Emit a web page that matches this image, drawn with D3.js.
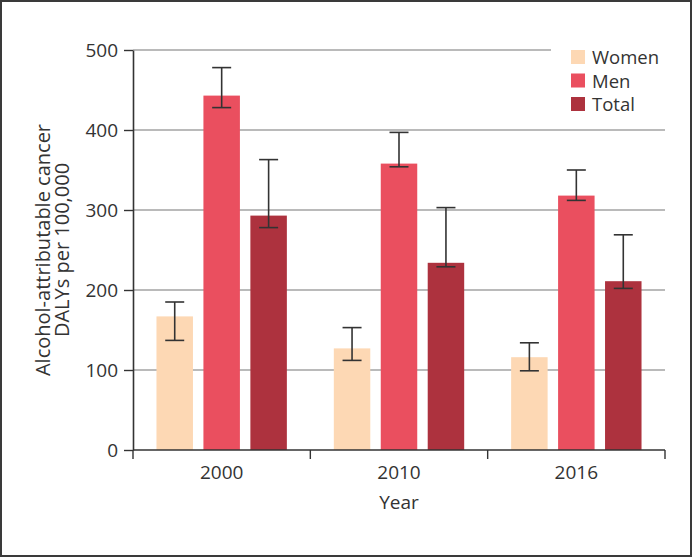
<!DOCTYPE html>
<html><head><meta charset="utf-8">
<script src="https://cdn.jsdelivr.net/npm/d3@7"></script>
<style>body{margin:0;background:#fff}svg{display:block}text{font-family:"Open Sans","Noto Sans",sans-serif;fill:#333}</style>
</head><body>
<svg id="c" width="692" height="557"></svg>
<script>
const years = ["2000", "2010", "2016"];
const seriesNames = ["Women", "Men", "Total"];
const colors = ["#fdd8b4", "#ea4f5f", "#ad323e"];
const women = [167, 127, 116];
const men = [443, 358, 318];
const total = [293, 234, 211];
const womenLow = [137, 112, 99];
const womenHigh = [185, 153, 134];
const menLow = [428, 354, 312];
const menHigh = [478, 397, 350];
const totalLow = [278, 229, 202];
const totalHigh = [363, 303, 269];
const yTicks = [0, 100, 200, 300, 400, 500];

const vals = [women, men, total];
const lows = [womenLow, menLow, totalLow];
const highs = [womenHigh, menHigh, totalHigh];

const svg = d3.select("#c");
const L = 133, R = 665, T = 50, B = 450;
svg.append("rect").attr("x",1).attr("y",1).attr("width",690).attr("height",555)
  .attr("fill","#fff").attr("stroke","#3a3a3a").attr("stroke-width",2);

const x = d3.scaleBand().domain(years).range([L, R]).padding(0);
const xi = d3.scaleBand().domain(seriesNames).range([0, x.bandwidth()]).paddingInner(0.223).paddingOuter(0.5);
const y = d3.scaleLinear().domain([0, 500]).range([B, T]);

// gridlines
svg.append("g").selectAll("line").data(yTicks.filter(d=>d>0)).join("line")
  .attr("x1", L).attr("x2", R).attr("y1", d=>y(d)).attr("y2", d=>y(d))
  .attr("stroke", "#a3a3a3").attr("stroke-width", 1.5);

// legend background
svg.append("rect").attr("x",551).attr("y",40).attr("width",130).attr("height",80).attr("fill","#fff");

// bars
const g = svg.append("g");
years.forEach((yr, i) => {
  seriesNames.forEach((s, j) => {
    const bx = x(yr) + xi(s);
    g.append("rect").attr("x", bx).attr("width", xi.bandwidth())
      .attr("y", y(vals[j][i])).attr("height", y(0) - y(vals[j][i]))
      .attr("fill", colors[j]);
  });
});
// error bars
years.forEach((yr, i) => {
  seriesNames.forEach((s, j) => {
    const cx = x(yr) + xi(s) + xi.bandwidth()/2;
    const e = g.append("g").attr("stroke", "#333").attr("stroke-width", 1.6);
    e.append("line").attr("x1", cx).attr("x2", cx).attr("y1", y(highs[j][i])).attr("y2", y(lows[j][i]));
    e.append("line").attr("x1", cx-9.5).attr("x2", cx+9.5).attr("y1", y(highs[j][i])).attr("y2", y(highs[j][i]));
    e.append("line").attr("x1", cx-9.5).attr("x2", cx+9.5).attr("y1", y(lows[j][i])).attr("y2", y(lows[j][i]));
  });
});

// y axis
const ya = svg.append("g").attr("transform", `translate(${L},0)`)
  .call(d3.axisLeft(y).tickValues(yTicks).tickSize(9).tickSizeOuter(0).tickPadding(6));
ya.select(".domain").attr("stroke", "#333").attr("stroke-width", 1.6);
ya.selectAll(".tick line").attr("stroke", "#333").attr("stroke-width", 1.4);
ya.selectAll("text").attr("font-size", 19).attr("fill", "#333").attr("font-family", null);

// x axis
const xa = svg.append("g").attr("transform", `translate(0,${B})`);
xa.append("line").attr("x1", L).attr("x2", R).attr("y1", 0).attr("y2", 0).attr("stroke", "#333").attr("stroke-width", 1.6);
const bounds = [L, ...years.map(yr => x(yr) + x.bandwidth())];
xa.selectAll("line.tk").data(bounds).join("line").attr("class","tk")
  .attr("x1", d=>d).attr("x2", d=>d).attr("y1", 0).attr("y2", 9).attr("stroke", "#333").attr("stroke-width", 1.4);
xa.selectAll("text").data(years).join("text")
  .attr("x", d => x(d) + x.bandwidth()/2).attr("y", 28.5)
  .attr("text-anchor", "middle").attr("font-size", 19).text(d => d);

svg.append("text").attr("x", (L+R)/2).attr("y", 509).attr("text-anchor","middle").attr("font-size", 19).text("Year");

// y label
const yl = svg.append("text").attr("transform", `translate(0,${(T+B)/2}) rotate(-90)`).attr("text-anchor","middle").attr("font-size", 20);
yl.append("tspan").attr("x", 0).attr("y", 50).text("Alcohol-attributable cancer");
yl.append("tspan").attr("x", 0).attr("y", 69).text("DALYs per 100,000");

// legend
const lg = svg.append("g");
seriesNames.forEach((s, j) => {
  lg.append("rect").attr("x", 571).attr("y", 50 + j*23.5).attr("width", 14).attr("height", 14).attr("fill", colors[j]);
  lg.append("text").attr("x", 592).attr("y", 64 + j*23.5).attr("font-size", 18.5).text(s);
});
</script>
</body></html>
